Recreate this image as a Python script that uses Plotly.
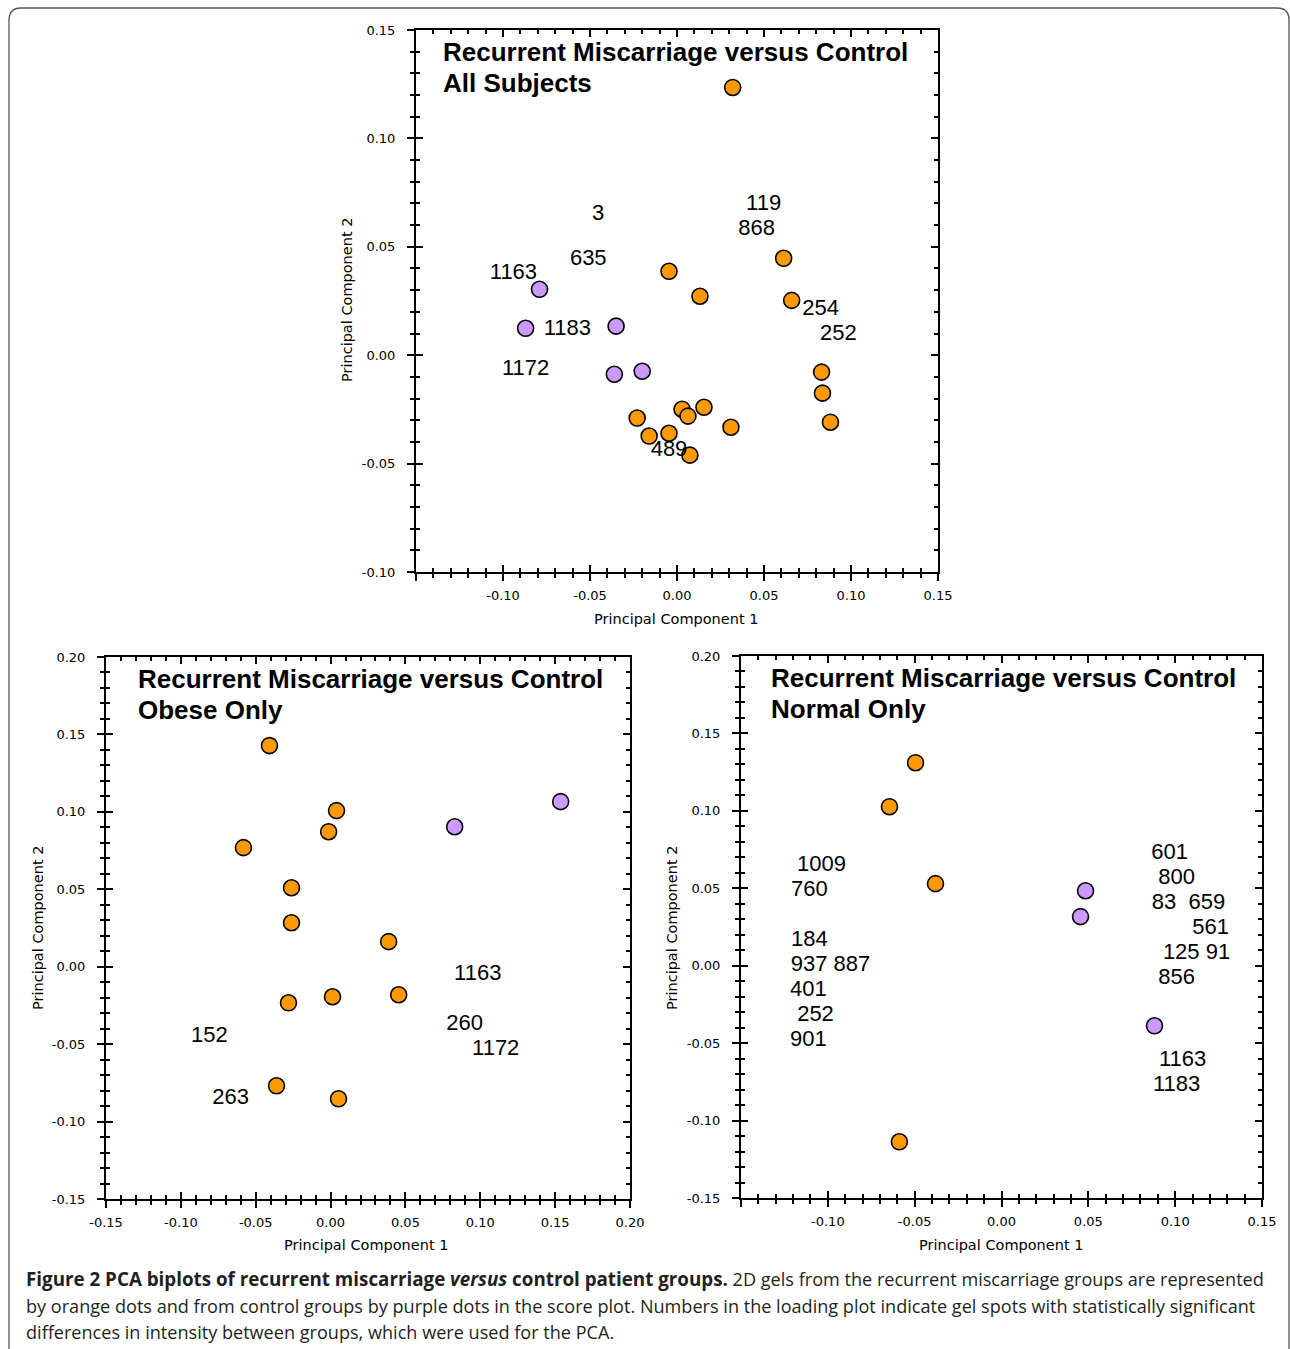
import plotly.graph_objects as go

W, H = 1290, 1349

# ---------------- DATA ----------------
# Panel A: All Subjects
all_rm_x = [0.032, 0.0613, 0.0659, -0.0046, 0.0132, 0.0831, 0.0836, 0.0882,
            -0.0229, 0.0029, 0.0063, 0.0155, -0.016, -0.0046, 0.031, 0.0074]
all_rm_y = [0.1235, 0.0447, 0.0253, 0.0387, 0.0272, -0.0078, -0.0175, -0.0309,
            -0.029, -0.0249, -0.0281, -0.024, -0.0373, -0.036, -0.0332, -0.0461]
all_ctrl_x = [-0.079, -0.087, -0.035, -0.036, -0.020]
all_ctrl_y = [0.0304, 0.0124, 0.0134, -0.0088, -0.0074]
all_spot_text = ["3", "119", "868", "635", "1163", "1183", "254", "252", "1172", "489"]
all_spot_x = [-0.0453, 0.0498, 0.0458, -0.051, -0.094, -0.063, 0.0825, 0.0928, -0.087, -0.0046]
all_spot_y = [0.065, 0.0696, 0.058, 0.0442, 0.0378, 0.012, 0.0212, 0.0097, -0.0065, -0.0438]

# Panel B: Obese Only
obese_rm_x = [-0.0408, 0.004, -0.0013, -0.0582, -0.0261, -0.0261, 0.0388,
              -0.0281, 0.0013, 0.0455, -0.0361, 0.0053]
obese_rm_y = [0.1428, 0.1008, 0.0872, 0.0769, 0.051, 0.0284, 0.0162,
              -0.0233, -0.0194, -0.0181, -0.0769, -0.0853]
obese_ctrl_x = [0.0829, 0.1537]
obese_ctrl_y = [0.0904, 0.1066]
obese_spot_text = ["1163", "260", "1172", "152", "263"]
obese_spot_x = [0.0983, 0.0896, 0.1103, -0.0809, -0.0668]
obese_spot_y = [-0.0052, -0.0375, -0.0536, -0.0452, -0.0853]

# Panel C: Normal Only
normal_rm_x = [-0.0495, -0.0645, -0.038, -0.0588]
normal_rm_y = [0.1311, 0.1027, 0.053, -0.1137]
normal_ctrl_x = [0.0484, 0.0455, 0.0881]
normal_ctrl_y = [0.0484, 0.0317, -0.0388]
normal_spot_text = ["1009", "760", "184", "937 887", "401", "252", "901",
                    "601", "800", "83  659", "561", "125 91", "856", "1163", "1183"]
normal_spot_x = [-0.1037, -0.1106, -0.1106, -0.0985, -0.1112, -0.1071, -0.1112,
                 0.0968, 0.1008, 0.1077, 0.1204, 0.1123, 0.1008, 0.1043, 0.1008]
normal_spot_y = [0.0646, 0.0484, 0.0162, 0.0, -0.0162, -0.0323, -0.0485,
                 0.0724, 0.0562, 0.04, 0.0239, 0.0078, -0.0084, -0.0614, -0.0775]

# Axis ticks
all_xtickvals = [-0.15, -0.10, -0.05, 0.00, 0.05, 0.10, 0.15]
all_xticktext = ["", "-0.10", "-0.05", "0.00", "0.05", "0.10", "0.15"]
all_ytickvals = [-0.10, -0.05, 0.00, 0.05, 0.10, 0.15]
all_yticktext = ["-0.10", "-0.05", "0.00", "0.05", "0.10", "0.15"]
obese_xtickvals = [-0.15, -0.10, -0.05, 0.00, 0.05, 0.10, 0.15, 0.20]
obese_xticktext = ["-0.15", "-0.10", "-0.05", "0.00", "0.05", "0.10", "0.15", "0.20"]
obese_ytickvals = [-0.15, -0.10, -0.05, 0.00, 0.05, 0.10, 0.15, 0.20]
obese_yticktext = ["-0.15", "-0.10", "-0.05", "0.00", "0.05", "0.10", "0.15", "0.20"]
normal_xtickvals = [-0.15, -0.10, -0.05, 0.00, 0.05, 0.10, 0.15]
normal_xticktext = ["", "-0.10", "-0.05", "0.00", "0.05", "0.10", "0.15"]
normal_ytickvals = obese_ytickvals
normal_yticktext = obese_yticktext

panel_title_line1 = "Recurrent Miscarriage versus Control"
panel_subtitles = ["All Subjects", "Obese Only", "Normal Only"]
x_title = "Principal Component 1"
y_title = "Principal Component 2"

# ---------------- STYLE / LAYOUT ----------------
ORANGE = "#FF9900"
PURPLE = "#CC99FF"
BASE_FONT = "Liberation Sans, Arial, sans-serif"
AXIS_FONT = "DejaVu Sans, sans-serif"
CAPTION_FONT = "Open Sans, sans-serif"


def px_x(px):
    return px / W


def px_y(py):
    return 1 - py / H


panels = [
    dict(dom=(416, 938, 30, 572), xr=(-0.15, 0.15), yr=(-0.10, 0.15),
         xt=(all_xtickvals, all_xticktext), yt=(all_ytickvals, all_yticktext),
         rm=(all_rm_x, all_rm_y), ctrl=(all_ctrl_x, all_ctrl_y),
         spots=(all_spot_text, all_spot_x, all_spot_y),
         title_pos=(441, 52), xt_pos=(676, 619), yt_pos=(347, 300)),
    dict(dom=(106, 630, 657, 1199), xr=(-0.15, 0.20), yr=(-0.15, 0.20),
         xt=(obese_xtickvals, obese_xticktext), yt=(obese_ytickvals, obese_yticktext),
         rm=(obese_rm_x, obese_rm_y), ctrl=(obese_ctrl_x, obese_ctrl_y),
         spots=(obese_spot_text, obese_spot_x, obese_spot_y),
         title_pos=(136, 679), xt_pos=(366, 1245), yt_pos=(38, 928)),
    dict(dom=(741, 1262, 656, 1198), xr=(-0.15, 0.15), yr=(-0.15, 0.20),
         xt=(normal_xtickvals, normal_xticktext), yt=(normal_ytickvals, normal_yticktext),
         rm=(normal_rm_x, normal_rm_y), ctrl=(normal_ctrl_x, normal_ctrl_y),
         spots=(normal_spot_text, normal_spot_x, normal_spot_y),
         title_pos=(769, 678), xt_pos=(1001, 1245), yt_pos=(672, 928)),
]

fig = go.Figure()
layout = dict(width=W, height=H, margin=dict(l=0, r=0, t=0, b=0, autoexpand=False),
              paper_bgcolor="white", plot_bgcolor="white", showlegend=False,
              font=dict(family=BASE_FONT, color="black"))
annotations = []

for i, p in enumerate(panels):
    n = i + 1
    ov = i + 4
    xs = "" if n == 1 else str(n)
    xid, yid = "x" + xs, "y" + xs
    xo, yo = "x" + str(ov), "y" + str(ov)
    l, r, t, b = p["dom"]
    xdom = [px_x(l), px_x(r)]
    ydom = [px_y(b), px_y(t)]
    tickfont = dict(family=AXIS_FONT, size=13, color="black")
    common = dict(showgrid=False, zeroline=False, fixedrange=True, automargin=False)
    layout["xaxis" + xs] = dict(domain=xdom, anchor=yid, range=list(p["xr"]),
                                showline=True, linecolor="black", linewidth=2, mirror=True,
                                ticks="outside", ticklen=7, tickwidth=2, tickcolor="black",
                                tickvals=p["xt"][0], ticktext=p["xt"][1], tickfont=tickfont,
                                ticklabelstandoff=3,
                                minor=dict(dtick=0.01, tick0=0, ticks="outside", ticklen=4,
                                           tickwidth=1.5, tickcolor="black", showgrid=False),
                                **common)
    layout["yaxis" + xs] = dict(domain=ydom, anchor=xid, range=list(p["yr"]),
                                showline=True, linecolor="black", linewidth=2, mirror=True,
                                ticks="outside", ticklen=7, tickwidth=2, tickcolor="black",
                                tickvals=p["yt"][0], ticktext=p["yt"][1], tickfont=tickfont,
                                ticklabelstandoff=9,
                                minor=dict(dtick=0.01, tick0=0, ticks="outside", ticklen=4,
                                           tickwidth=1.5, tickcolor="black", showgrid=False),
                                **common)
    # overlay axes: inside ticks on all four sides (gives the crossing tick look)
    layout["xaxis" + str(ov)] = dict(overlaying=xid, anchor=yo, range=list(p["xr"]),
                                     showline=False, mirror="allticks", ticks="inside",
                                     ticklen=7, tickwidth=2, tickcolor="black",
                                     tickvals=p["xt"][0], showticklabels=False,
                                     minor=dict(dtick=0.01, tick0=0, ticks="inside", ticklen=4,
                                                tickwidth=1.5, tickcolor="black", showgrid=False),
                                     **common)
    layout["yaxis" + str(ov)] = dict(overlaying=yid, anchor=xo, range=list(p["yr"]),
                                     showline=False, mirror="allticks", ticks="inside",
                                     ticklen=7, tickwidth=2, tickcolor="black",
                                     tickvals=p["yt"][0], showticklabels=False,
                                     minor=dict(dtick=0.01, tick0=0, ticks="inside", ticklen=4,
                                                tickwidth=1.5, tickcolor="black", showgrid=False),
                                     **common)
    fig.add_trace(go.Scatter(x=[], y=[], xaxis=xo, yaxis=yo, mode="markers",
                             hoverinfo="skip", showlegend=False))

    marker_line = dict(color="black", width=1.6)
    fig.add_trace(go.Scatter(x=p["rm"][0], y=p["rm"][1], xaxis=xid, yaxis=yid, mode="markers",
                             marker=dict(size=16, color=ORANGE, line=marker_line),
                             name="Recurrent miscarriage"))
    fig.add_trace(go.Scatter(x=p["ctrl"][0], y=p["ctrl"][1], xaxis=xid, yaxis=yid, mode="markers",
                             marker=dict(size=16, color=PURPLE, line=marker_line),
                             name="Control"))
    fig.add_trace(go.Scatter(x=p["spots"][1], y=p["spots"][2], text=p["spots"][0],
                             xaxis=xid, yaxis=yid, mode="text", textposition="middle center",
                             textfont=dict(family=BASE_FONT, size=22, color="black"),
                             name="Gel spots"))

    tx, ty = p["title_pos"]
    annotations.append(dict(xref="paper", yref="paper", x=px_x(tx), y=px_y(ty),
                            xanchor="left", yanchor="middle", showarrow=False,
                            text="<b>" + panel_title_line1 + "</b>",
                            font=dict(family=BASE_FONT, size=26, color="black")))
    annotations.append(dict(xref="paper", yref="paper", x=px_x(tx), y=px_y(ty + 31),
                            xanchor="left", yanchor="middle", showarrow=False,
                            text="<b>" + panel_subtitles[i] + "</b>",
                            font=dict(family=BASE_FONT, size=26, color="black")))
    ax, ay = p["xt_pos"]
    annotations.append(dict(xref="paper", yref="paper", x=px_x(ax), y=px_y(ay),
                            xanchor="center", yanchor="middle", showarrow=False,
                            text=x_title, font=dict(family=AXIS_FONT, size=14.5, color="black")))
    yx, yy = p["yt_pos"]
    annotations.append(dict(xref="paper", yref="paper", x=px_x(yx), y=px_y(yy),
                            xanchor="center", yanchor="middle", showarrow=False, textangle=-90,
                            text=y_title, font=dict(family=AXIS_FONT, size=14.5, color="black")))

# Caption
caption_lines = [
    "<span style='font-size:18.8px'><b>Figure 2 PCA biplots of recurrent miscarriage <i>versus</i> "
    "control patient groups.</b></span> "
    "2D gels from the recurrent miscarriage groups are represented",
    "by orange dots and from control groups by purple dots in the score plot. Numbers in the loading plot "
    "indicate gel spots with statistically significant",
    "differences in intensity between groups, which were used for the PCA.",
]
for k, line in enumerate(caption_lines):
    annotations.append(dict(xref="paper", yref="paper", x=px_x(24), y=px_y(1279 + 26.5 * k),
                            xanchor="left", yanchor="middle", showarrow=False, text=line,
                            font=dict(family=CAPTION_FONT, size=18.1, color="#231f20")))

layout["annotations"] = annotations


# rounded frame around the figure
def frame_path():
    l, t, r, b, rad = 9, 8, 1289, 1352, 12
    pts = [
        f"M {px_x(l)},{px_y(b)}",
        f"L {px_x(l)},{px_y(t + rad)}",
        f"Q {px_x(l)},{px_y(t)} {px_x(l + rad)},{px_y(t)}",
        f"L {px_x(r - rad)},{px_y(t)}",
        f"Q {px_x(r)},{px_y(t)} {px_x(r)},{px_y(t + rad)}",
        f"L {px_x(r)},{px_y(b)}",
    ]
    return " ".join(pts)


layout["shapes"] = [dict(type="path", xref="paper", yref="paper", path=frame_path(),
                         line=dict(color="#555555", width=1.3))]

fig.update_layout(**layout)
fig.write_html("out.html", config={"displayModeBar": False},
               post_script="document.body.style.margin='0';document.body.style.overflow='hidden';")
